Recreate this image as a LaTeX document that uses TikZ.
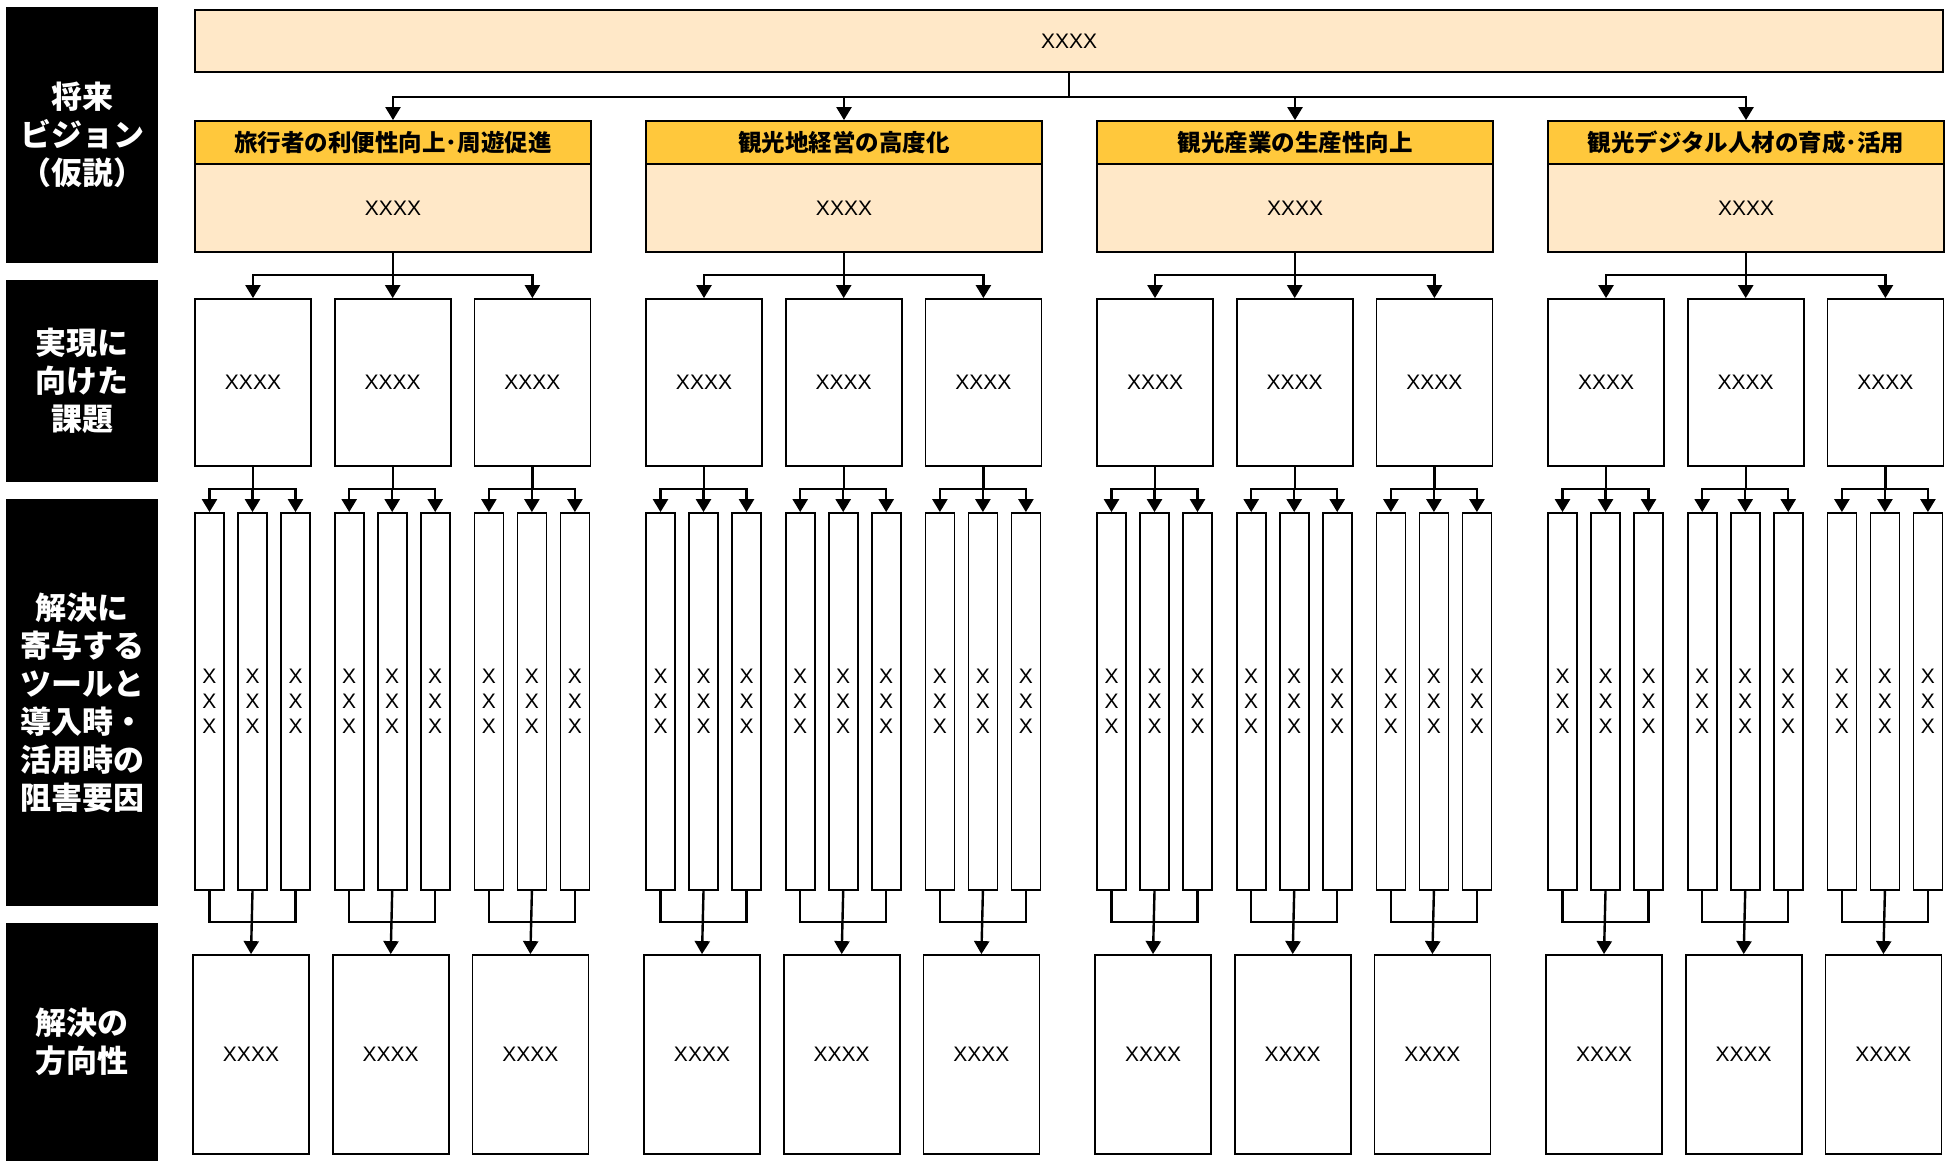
\documentclass[tikz,border=0pt]{standalone}
\usepackage{fontspec}
\setmainfont{Liberation Sans}
\newfontfamily\jp{Noto Sans CJK JP}
\usetikzlibrary{arrows.meta}
\definecolor{peach}{HTML}{FFE8C8}
\definecolor{gold}{HTML}{FFC83C}
\begin{document}
\begin{tikzpicture}[x=1pt,y=-1pt,
  bx/.style={draw=black, line width=1.8pt, inner sep=0pt, font=\fontsize{21}{24}\selectfont},
  side/.style={fill=black, inner sep=0pt, text=white, align=center,
    font=\jp\bfseries\fontsize{31}{38}\selectfont},
  hdfont/.style={font=\jp\bfseries\fontsize{23.5}{26}\selectfont},
  conn/.style={line width=2.4pt},
  arr/.style={conn, -{Triangle[width=15pt,length=13pt]}},
]
\useasboundingbox (0,0) rectangle (1945,1161);
% side labels
\node[side, minimum width=152pt, minimum height=256pt] (lab1) at (82,135) {将来\\ビジョン\\（仮説）};
\node[side, minimum width=152pt, minimum height=202pt] (lab2) at (82,381) {実現に\\向けた\\課題};
\node[side, minimum width=152pt, minimum height=407pt] (lab3) at (82,702.5) {解決に\\寄与する\\ツールと\\導入時・\\活用時の\\阻害要因};
\node[side, minimum width=152pt, minimum height=238pt] (lab4) at (82,1042) {解決の\\方向性};
% top box
\node[bx, fill=peach, line width=1.6pt, minimum width=1748pt, minimum height=62pt] (top) at (1069,41) {XXXX};
\coordinate (bar0) at (0,97);
\coordinate (bar1) at (0,275);
\coordinate (bar2) at (0,489);
\coordinate (bar3) at (0,922);
\foreach \g/\t in {0/{旅行者の利便性向上･周遊促進},1/{観光地経営の高度化},2/{観光産業の生産性向上},3/{観光デジタル人材の育成･活用}} {
  \pgfmathsetmacro\gx{195+451*\g}
  \node[bx, fill=gold, hdfont, minimum width=396pt, minimum height=43pt] (hd\g) at (\gx+198,142.5) {\t};
  \node[bx, fill=peach, minimum width=396pt, minimum height=88pt] (bd\g) at (\gx+198,208) {XXXX};
  \draw[arr] (top.south) -- (top.south |- bar0) -| (hd\g.north);
  \foreach \i in {0,1,2} {
    \pgfmathsetmacro\L{\gx+139.7*\i}
    \node[bx, minimum width=116pt, minimum height=167pt] (is\g\i) at (\L+58,382.5) {XXXX};
    \draw[arr] (bd\g.south) -- (bd\g.south |- bar1) -| (is\g\i.north);
    \foreach \j in {0,1,2} {
      \node[bx, minimum width=29pt, minimum height=377pt, align=center, font=\fontsize{21}{25}\selectfont] (tl\g\i\j) at (\L+14.5+43*\j,701.5) {X\\X\\X};
      \draw[arr] (is\g\i.south) -- (is\g\i.south |- bar2) -| (tl\g\i\j.north);
    }
    \node[bx, minimum width=116pt, minimum height=199pt] (dr\g\i) at (\L+56,1054.5) {XXXX};
    \draw[conn] (tl\g\i0.south) -- (tl\g\i0.south |- bar3) -- (tl\g\i2.south |- bar3) -- (tl\g\i2.south);
    \draw[arr] (tl\g\i1.south) -- (dr\g\i.north);
  }
}
\end{tikzpicture}
\end{document}
